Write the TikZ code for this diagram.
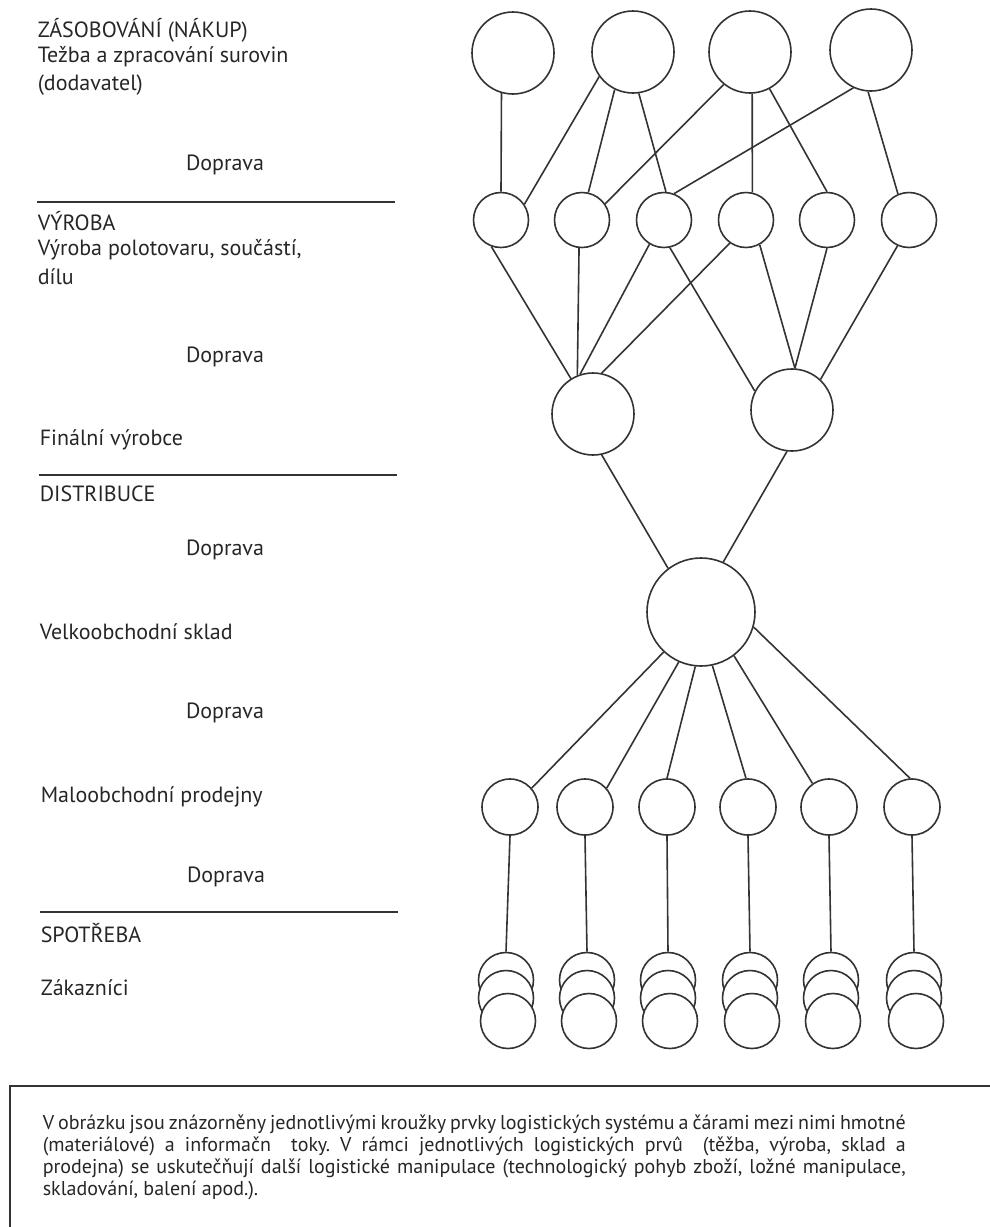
\documentclass[tikz,border=0pt]{standalone}
\usepackage{fontspec}
\setmainfont{PT Sans}
\usepackage{tikz}

\begin{document}
\begin{tikzpicture}[x=0.5pt, y=-0.5pt, line width=0.8pt,
  kruh/.style={circle, draw=black!80, fill=white, inner sep=0pt},
  velky/.style={kruh, minimum size=41pt},
  maly/.style={kruh, minimum size=27.5pt},
  sklad/.style={kruh, minimum size=54pt},
  spoj/.style={draw=black!80},
  popis/.style={anchor=west, inner sep=0pt, font=\fontsize{11}{13}\selectfont, text=black!85},
  doprava/.style={inner sep=0pt, font=\fontsize{11}{13}\selectfont, text=black!85}]
\useasboundingbox (0,0) rectangle (990,1227);

% left column
\node[popis] (zas) at (37,30) {ZÁSOBOVÁNÍ (NÁKUP)};
\node[popis] (tez) at (37,57) {Težba a zpracování surovin};
\node[popis] (dod) at (37,85) {(dodavatel)};
\node[doprava] (dop1) at (225,165) {Doprava};
\draw[spoj] (37,202) -- (395,202);
\node[popis] (vyr) at (37,221) {VÝROBA};
\node[popis] (pol) at (37,250) {Výroba polotovaru, součástí,};
\node[popis] (dil) at (37,277) {dílu};
\node[doprava] (dop2) at (225,357) {Doprava};
\node[popis] (fin) at (39,440) {Finální výrobce};
\draw[spoj] (39,475) -- (397,475);
\node[popis] (dis) at (39,494) {DISTRIBUCE};
\node[doprava] (dop3) at (225,550) {Doprava};
\node[popis] (vel) at (39,632) {Velkoobchodní sklad};
\node[doprava] (dop4) at (225,713) {Doprava};
\node[popis] (mal) at (40,797) {Maloobchodní prodejny};
\node[doprava] (dop5) at (226,877) {Doprava};
\draw[spoj] (40,912) -- (398,912);
\node[popis] (spo) at (40,933) {SPOTŘEBA};
\node[popis] (zak) at (40,988) {Zákazníci};

% suppliers
\node[velky] (T1) at (513,53) {};
\node[velky] (T2) at (633,52) {};
\node[velky] (T3) at (750,52) {};
\node[velky] (T4) at (871,50) {};

% production
\node[maly] (V1) at (501,220) {};
\node[maly] (V2) at (582,220) {};
\node[maly] (V3) at (664,220) {};
\node[maly] (V4) at (746,220) {};
\node[maly] (V5) at (827,220) {};
\node[maly] (V6) at (909,220) {};

% final producers
\node[velky] (F1) at (593,414) {};
\node[velky] (F2) at (792,410) {};

% wholesale
\node[sklad] (W) at (701,612) {};

% retail
\node[maly, minimum size=28pt] (P1) at (510,807) {};
\node[maly, minimum size=28pt] (P2) at (585,807) {};
\node[maly, minimum size=28pt] (P3) at (667,807) {};
\node[maly, minimum size=28pt] (P4) at (748,807) {};
\node[maly, minimum size=28pt] (P5) at (829,807) {};
\node[maly, minimum size=28pt] (P6) at (912,807) {};

% customers
\node[maly] (Z1a) at (506,980) {};
\node[maly] (Z1b) at (506,998) {};
\node[maly] (Z1c) at (508,1021) {};
\node[maly] (Z2a) at (587,980) {};
\node[maly] (Z2b) at (587,998) {};
\node[maly] (Z2c) at (589,1021) {};
\node[maly] (Z3a) at (668,980) {};
\node[maly] (Z3b) at (668,998) {};
\node[maly] (Z3c) at (670,1021) {};
\node[maly] (Z4a) at (750,980) {};
\node[maly] (Z4b) at (750,998) {};
\node[maly] (Z4c) at (752,1021) {};
\node[maly] (Z5a) at (831,980) {};
\node[maly] (Z5b) at (831,998) {};
\node[maly] (Z5c) at (833,1021) {};
\node[maly] (Z6a) at (914,980) {};
\node[maly] (Z6b) at (914,998) {};
\node[maly] (Z6c) at (916,1021) {};

% suppliers -- production
\draw[spoj] (T1.254) -- (V1.north);
\draw[spoj] (T2.216) -- (V1.34);
\draw[spoj] (T2.244) -- (V2.77);
\draw[spoj] (T2.278) -- (V3.86);
\draw[spoj] (T3.231) -- (V2.35);
\draw[spoj] (T3.273) -- (V4.77);
\draw[spoj] (T3.298) -- (V5.north);
\draw[spoj] (T4.245) -- (V3.69);
\draw[spoj] (T4.266) -- (V6.113);

% production -- final producers
\draw[spoj] (V1.250) -- (F1.122);
\draw[spoj] (V2.264) -- (F1.112);
\draw[spoj] (V3.239) -- (F1.108);
\draw[spoj] (V4.235) -- (F1.78);
\draw[spoj] (V3.282) -- (F2.153);
\draw[spoj] (V4.299) -- (F2.86);
\draw[spoj] (V5.south) -- (F2.86);
\draw[spoj] (V6.246) -- (F2.47);

% final producers -- wholesale
\draw[spoj] (F1.282) -- (W.127);
\draw[spoj] (F2.263) -- (W.66);

% wholesale -- retail
\draw[spoj] (W.227) -- (P1.41);
\draw[spoj] (W.246) -- (P2.41);
\draw[spoj] (W.264) -- (P3.north);
\draw[spoj] (W.282) -- (P4.94);
\draw[spoj] (W.307) -- (P5.125);
\draw[spoj] (W.344) -- (P6.94);

% retail -- customers
\draw[spoj] (P1.south) -- (Z1a.north);
\draw[spoj] (P2.south) -- (Z2a.north);
\draw[spoj] (P3.south) -- (Z3a.north);
\draw[spoj] (P4.south) -- (Z4a.north);
\draw[spoj] (P5.south) -- (Z5a.north);
\draw[spoj] (P6.south) -- (Z6a.north);

% note box
\draw[spoj] (990,1086) -- (10,1086) -- (10,1227);
\node[anchor=north west, inner sep=0pt, text width=431.5pt, align=justify,
  font=\fontsize{10}{11}\selectfont\frenchspacing, text=black!85] (pozn) at (42,1114)
  {V obrázku jsou znázorněny jednotlivými kroužky prvky logistických systému a čárami mezi nimi hmotné\linebreak
  (materiálové) a informačn\ \ toky. V rámci jednotlivých logistických prvû \ (těžba, výroba, sklad a\linebreak
  prodejna) se uskutečňují další logistické manipulace (technologický pohyb zboží, ložné manipulace,\linebreak
  skladování, balení apod.).\par};
\end{tikzpicture}
\end{document}
